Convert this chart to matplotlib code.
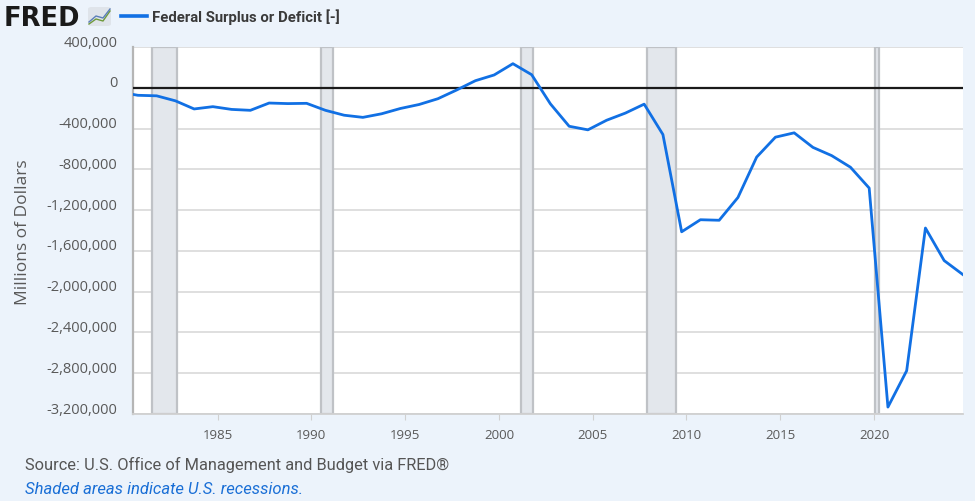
import matplotlib.pyplot as plt
import matplotlib.transforms as mtransforms
from matplotlib.patches import FancyBboxPatch
from matplotlib.ticker import FuncFormatter

# fiscal years (observations dated Sept 30 of each year), millions of dollars
years = list(range(1979, 2025))
deficit = [
    -40726, -73830, -78968, -127977, -207802, -185367, -212308, -221227,
    -149730, -155178, -152639, -221036, -269238, -290321, -255051, -203186,
    -163952, -107431, -21884, 69270, 125610, 236241, 128236, -157758,
    -377585, -412727, -318346, -248181, -160701, -458553, -1412688,
    -1294373, -1299599, -1076573, -679775, -484602, -442002, -584651,
    -665446, -779137, -983594, -3131917, -2775306, -1375876, -1695242,
    -1832819,
]

# recession periods (start, end) as decimal years
recessions = [
    (1981.50, 1982.83),
    (1990.50, 1991.17),
    (2001.17, 2001.83),
    (2007.92, 2009.42),
    (2020.08, 2020.25),
]

x_ticks = [1985, 1990, 1995, 2000, 2005, 2010, 2015, 2020]
y_ticks = [400000, 0, -400000, -800000, -1200000, -1600000, -2000000,
           -2400000, -2800000, -3200000]

bg = '#ecf3fb'
line_color = '#1170e4'
tick_font = ['Open Sans', 'DejaVu Sans']
text_font = ['Roboto', 'DejaVu Sans']

fig = plt.figure(figsize=(9.75, 5.02), dpi=100, facecolor=bg)
ax = fig.add_axes([0.1359, 0.1733, 0.8518, 0.7311])
ax.set_facecolor('white')

x_dates = [y + 0.746 for y in years]

for start, end in recessions:
    ax.axvspan(start, end, facecolor='#e3e7ec', edgecolor='#bfc2c6',
               linewidth=1.6, zorder=1)

ax.set_yticks(y_ticks)
ax.yaxis.grid(True, color='#dcdcdc', linewidth=1.3, zorder=0)
ax.set_axisbelow(True)
ax.axhline(0, color='#1a1a1a', linewidth=1.6, zorder=3)

ax.plot(x_dates, deficit, color=line_color, linewidth=2.0, zorder=4)

ax.set_xlim(1980.46, 2024.75)
ax.set_ylim(-3200000, 400000)
ax.set_xticks(x_ticks)
ax.yaxis.set_major_formatter(FuncFormatter(lambda v, p: f'{int(v):,}'))

for side in ['top', 'right']:
    ax.spines[side].set_visible(False)
ax.spines['left'].set_color('#b5b5b5')
ax.spines['left'].set_linewidth(1.6)
ax.spines['bottom'].set_color('#d0d0d0')
ax.spines['bottom'].set_linewidth(1.3)

ax.tick_params(axis='y', length=0, pad=11, labelcolor='#595959', labelsize=10.5)
ax.tick_params(axis='x', length=4, color='#d0d0d0', pad=6,
               labelcolor='#595959', labelsize=9.5)
for lab in ax.get_xticklabels() + ax.get_yticklabels():
    lab.set_family(tick_font)

# FRED draws y labels a bit above their gridlines
offset = mtransforms.ScaledTranslation(0, 5 / 72, fig.dpi_scale_trans)
for lab in ax.get_yticklabels():
    lab.set_transform(lab.get_transform() + offset)

fig.text(23 / 975, 1 - 232 / 502, 'Millions of Dollars', rotation=90,
         ha='center', va='center', fontsize=12.5, color='#595959',
         family=tick_font)

# header: logo + legend
fig.text(4 / 975, 1 - 19 / 502, 'FRED', ha='left', va='center',
         fontsize=18.5, fontweight='bold', color='#1a1a1a',
         family=['DejaVu Sans'])
icon = FancyBboxPatch((88 / 975, 1 - 27 / 502), 23 / 975, 19 / 502,
                      boxstyle='round,pad=0.0,rounding_size=0.004',
                      transform=fig.transFigure, facecolor='#dfe4ea',
                      edgecolor='none')
fig.patches.append(icon)
fig.lines.append(plt.Line2D([89 / 975, 96 / 975, 103 / 975, 110 / 975],
                            [1 - 25 / 502, 1 - 20 / 502, 1 - 22 / 502, 1 - 12 / 502],
                            transform=fig.transFigure, color='#6f9a3c', linewidth=1))
fig.lines.append(plt.Line2D([89 / 975, 96 / 975, 103 / 975, 110 / 975],
                            [1 - 23 / 502, 1 - 17 / 502, 1 - 19 / 502, 1 - 10 / 502],
                            transform=fig.transFigure, color='#5b7fb8', linewidth=1))
fig.lines.append(plt.Line2D([121 / 975, 147 / 975], [1 - 17 / 502, 1 - 17 / 502],
                            transform=fig.transFigure, color=line_color, linewidth=2.6))
fig.text(152 / 975, 1 - 17 / 502, 'Federal Surplus or Deficit [-]', ha='left',
         va='center', fontsize=10.7, fontweight='bold', color='#3a3a3a',
         family=text_font)

# footer
fig.text(25 / 975, 1 - 465 / 502,
         'Source: U.S. Office of Management and Budget via FRED\u00ae',
         ha='left', va='center', fontsize=11.8, color='#555555', family=text_font)
fig.text(25 / 975, 1 - 490 / 502, 'Shaded areas indicate U.S. recessions.',
         ha='left', va='center', fontsize=12, style='italic',
         color='#1a6fd6', family=text_font)

fig.savefig('out.png', dpi=100, facecolor=bg)
